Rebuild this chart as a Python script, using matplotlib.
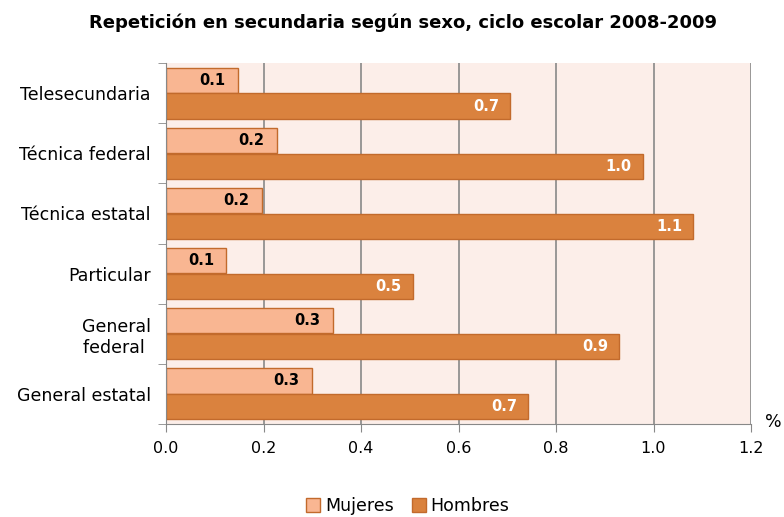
import numpy as np
import matplotlib.pyplot as plt

plt.rcParams['font.family'] = ['DejaVu Sans']

# datos
categorias = ["Telesecundaria", "Técnica federal", "Técnica estatal",
              "Particular", "General\nfederal ", "General estatal"]
mujeres = [0.148, 0.227, 0.197, 0.124, 0.342, 0.299]
hombres = [0.706, 0.978, 1.082, 0.506, 0.929, 0.743]
ticks_x = [0.0, 0.2, 0.4, 0.6, 0.8, 1.0, 1.2]

col_m = "#F9B692"
col_h = "#DA823E"
borde = "#C26A2C"

fig = plt.figure(figsize=(7.84, 5.17), dpi=100)
ax = fig.add_axes([166 / 784, 1 - 424 / 517, (751 - 166) / 784, (424 - 63) / 517])
ax.set_facecolor("#FCEEE9")

y = np.arange(len(categorias))
h = 0.42
ym = y - h / 2 - 0.005
yh = y + h / 2 + 0.005
bm = ax.barh(ym, mujeres, height=h, color=col_m, edgecolor=borde, linewidth=1, label="Mujeres")
bh = ax.barh(yh, hombres, height=h, color=col_h, edgecolor=borde, linewidth=1, label="Hombres")

# etiquetas dentro del extremo de cada barra
for v, yy in zip(mujeres, ym):
    ax.annotate(f"{v:.1f}", (v, yy), xytext=(-9, 0), textcoords="offset points",
                ha="right", va="center", fontsize=10.5, fontweight="bold", color="black")
for v, yy in zip(hombres, yh):
    ax.annotate(f"{v:.1f}", (v, yy), xytext=(-8, 0), textcoords="offset points",
                ha="right", va="center", fontsize=10.5, fontweight="bold", color="white")

ax.set_xlim(0, 1.2)
ax.set_ylim(len(categorias) - 0.5, -0.5)
ax.set_xticks(ticks_x)
ax.set_xticklabels([f"{t:.1f}" for t in ticks_x], fontsize=11.5)
ax.set_yticks(y)
ax.set_yticklabels(categorias, fontsize=12.5, multialignment="right")
ax.tick_params(axis="y", length=0, pad=11)
ax.set_yticks(np.arange(-0.5, len(categorias)), minor=True)
ax.tick_params(axis="y", which="minor", length=6, color="#888888")
ax.tick_params(axis="x", length=6, color="#888888", pad=6)
ax.grid(axis="x", color="#888888", linewidth=1.2)
ax.set_axisbelow(True)
for s in ["top", "right"]:
    ax.spines[s].set_visible(False)
ax.spines["left"].set_color("#888888")
ax.spines["bottom"].set_color("#888888")

fig.text(403 / 784, 1 - 23 / 517, "Repetición en secundaria según sexo, ciclo escolar 2008-2009",
         ha="center", va="center", fontsize=13, fontweight="bold")
fig.text(773 / 784, 1 - 422 / 517, "%", ha="center", va="center", fontsize=12.5)

fig.legend(handles=[bm, bh], loc="center", bbox_to_anchor=(408 / 784, 1 - 506 / 517),
           ncol=2, frameon=False, fontsize=12.5, handlelength=0.8, handleheight=0.8,
           handletextpad=0.3, columnspacing=1.0)

fig.savefig("out.png", dpi=100)
